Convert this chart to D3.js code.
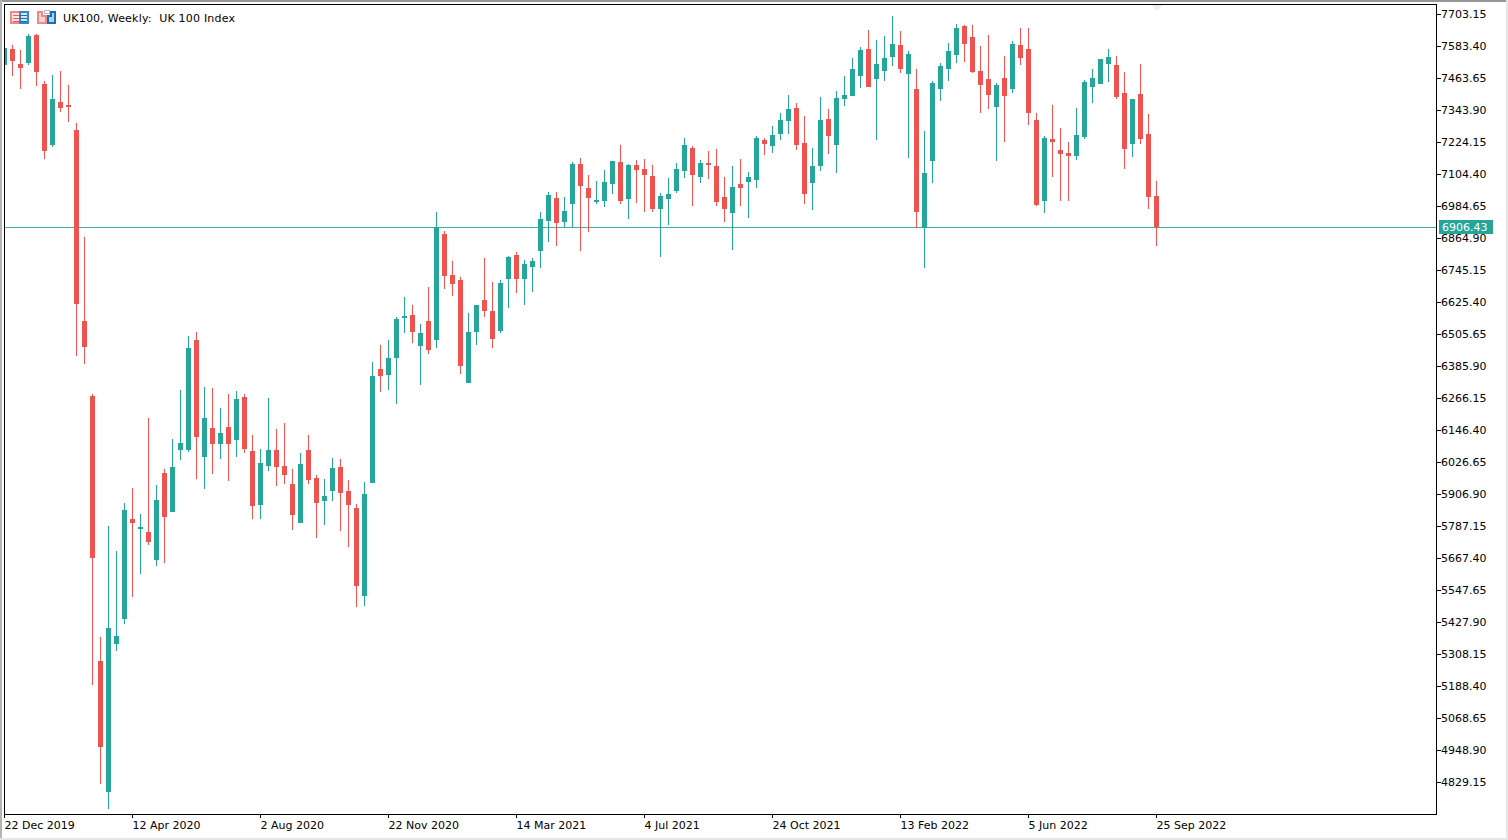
<!DOCTYPE html>
<html>
<head>
<meta charset="utf-8">
<title>UK100, Weekly</title>
<script src="https://cdn.jsdelivr.net/npm/d3@7/dist/d3.min.js"></script>
<style>
html,body{margin:0;padding:0;background:#fff;overflow:hidden}
svg{display:block}
text{font-family:"DejaVu Sans",sans-serif;font-size:11px;fill:#000;white-space:pre}
</style>
</head>
<body>
<svg id="chart" width="1508" height="840"></svg>
<script>
const chartTitle = "UK100, Weekly:  UK 100 Index";
const lastPrice = 6906.43;
const xTickLabels = ["22 Dec 2019","12 Apr 2020","2 Aug 2020","22 Nov 2020","14 Mar 2021","4 Jul 2021","24 Oct 2021","13 Feb 2022","5 Jun 2022","25 Sep 2022"];
const xTickWeeks = [0,16,32,48,64,80,96,112,128,144];
const yTickValues = [7703.15,7583.40,7463.65,7343.90,7224.15,7104.40,6984.65,6864.90,6745.15,6625.40,6505.65,6385.90,6266.15,6146.40,6026.65,5906.90,5787.15,5667.40,5547.65,5427.90,5308.15,5188.40,5068.65,4948.90,4829.15];

const opens = [
7512.3,7572.2,7516.0,7519.8,7624.6,7441.2,7212.9,7373.8,7362.6,7269.0,
6554.3,6273.6,5281.9,4791.8,5345.6,5439.1,5813.3,5775.9,5764.7,5659.9,
5985.5,5839.5,6071.5,6071.5,6483.2,6045.3,6153.9,6094.0,6157.6,6109.0,
6269.9,6067.8,5865.7,6011.6,6071.5,6011.6,5944.3,5798.3,6071.5,5966.7,
5880.7,5918.1,6007.9,5918.1,5854.5,5525.2,5948.0,6374.7,6352.2,6415.8,
6565.5,6576.7,6460.8,6554.3,6483.2,6879.8,6726.4,6707.7,6322.2,6513.1,
6632.9,6591.7,6516.8,6711.5,6801.3,6711.5,6756.4,6816.2,6928.5,7014.6,
6924.8,6992.1,7141.8,7052.0,6999.6,7003.3,7067.0,7149.3,7010.8,7138.1,
7123.1,7096.9,6973.4,7010.8,7040.8,7115.6,7201.7,7093.2,7145.5,7134.3,
7018.3,6958.5,7067.0,7074.5,7081.9,7231.6,7209.2,7254.1,7302.7,7351.4,
7220.4,7070.7,7134.3,7310.2,7212.9,7385.0,7396.3,7471.1,7572.2,7459.9,
7489.8,7542.2,7587.1,7478.6,7422.5,6902.3,7153.0,7422.5,7497.3,7549.7,
7658.2,7617.1,7489.8,7459.9,7355.1,7463.6,7422.5,7587.1,7572.2,7306.5,
7003.3,7235.4,7194.2,7183.0,7171.8,7242.9,7429.9,7441.2,7516.0,7512.3,
7407.5,7216.6,7403.8,7254.1,7022.0];

const highs = [
7575.9,7587.1,7568.4,7628.3,7628.3,7452.4,7474.9,7489.8,7437.4,7295.2,
6868.6,6281.1,5371.7,5787.1,5693.6,5873.2,5929.4,5832.0,6191.3,5940.6,
6000.4,6112.7,6296.1,6498.1,6513.1,6307.3,6303.6,6228.7,6281.1,6292.3,
6281.1,6127.7,6075.3,6266.1,6150.1,6172.6,6000.4,6060.3,6127.7,5978.0,
5963.0,6041.6,6037.8,5959.3,5869.5,5951.8,6400.8,6464.5,6483.2,6569.2,
6644.1,6614.2,6543.0,6681.5,6962.2,6891.1,6778.8,6719.0,6584.2,6614.2,
6790.0,6700.2,6707.7,6797.5,6812.5,6782.6,6790.0,6962.2,7037.0,7037.0,
7018.3,7149.3,7164.3,7100.6,7078.2,7119.4,7153.0,7212.9,7141.8,7156.8,
7160.5,7138.1,7033.3,7089.4,7145.5,7239.1,7209.2,7156.8,7190.5,7197.9,
7093.2,7134.3,7160.5,7111.9,7246.6,7239.1,7284.0,7332.7,7400.0,7370.1,
7321.4,7201.7,7392.5,7347.6,7415.0,7471.1,7538.5,7579.6,7643.3,7605.9,
7620.8,7695.7,7639.5,7564.7,7497.3,7265.3,7452.4,7519.8,7594.6,7665.7,
7662.0,7662.0,7583.4,7624.6,7444.9,7546.0,7602.1,7650.8,7650.8,7332.7,
7246.6,7362.6,7276.5,7224.1,7351.4,7456.2,7497.3,7534.7,7572.2,7546.0,
7486.1,7385.0,7516.0,7329.0,7078.2];

const lows = [
7512.3,7471.1,7422.5,7512.3,7433.7,7160.5,7205.4,7336.4,7299.0,6423.3,
6393.4,5192.1,4821.7,4728.1,5319.4,5420.4,5521.4,5607.5,5716.0,5637.4,
5648.6,5839.5,6034.1,6064.0,5963.0,5925.6,5981.7,6037.8,5955.5,6045.3,
6060.3,5813.3,5813.3,5993.0,5936.8,5944.3,5772.2,5798.3,5944.3,5742.2,
5790.8,5880.7,5768.4,5708.5,5484.0,5487.8,5948.0,6288.6,6296.1,6243.7,
6509.4,6471.9,6314.8,6430.8,6453.3,6674.0,6647.9,6355.9,6322.2,6464.5,
6569.2,6453.3,6509.4,6603.0,6659.1,6614.2,6662.8,6752.6,6849.9,6834.9,
6906.1,6906.1,6816.2,6887.3,6992.1,6980.9,7029.5,6992.1,6936.0,6995.8,
6962.2,6962.2,6793.8,6913.5,7033.3,7089.4,6984.6,7070.7,7085.7,6984.6,
6924.8,6820.0,6984.6,6939.7,7052.0,7175.5,7183.0,7231.6,7254.1,7194.2,
6992.1,6969.7,7115.6,7179.2,7108.1,7358.9,7396.3,7426.2,7429.9,7231.6,
7452.4,7508.5,7482.4,7164.3,6902.3,6752.6,7070.7,7377.6,7452.4,7519.8,
7523.5,7482.4,7332.7,7347.6,7153.0,7224.1,7407.5,7512.3,7287.8,6984.6,
6958.5,7093.2,7003.3,7003.3,7156.8,7235.4,7370.1,7441.2,7448.7,7385.0,
7123.1,7168.0,7216.6,6973.4,6834.9];

const closes = [
7575.9,7527.3,7501.0,7620.8,7486.1,7190.5,7385.0,7351.4,7355.1,6618.0,
6457.0,5667.4,4960.1,5405.4,5375.5,5847.0,5798.3,5783.4,5727.3,5884.4,
5820.8,6007.9,6097.7,6453.3,6120.2,6191.3,6094.0,6135.2,6094.0,6262.4,
6075.3,5861.9,6022.9,6071.5,6007.9,5978.0,5828.3,6019.1,5959.3,5873.2,
5899.4,6004.2,5910.6,5865.7,5562.6,5906.9,6348.5,6348.5,6415.8,6561.7,
6572.9,6513.1,6509.4,6445.8,6906.1,6722.7,6692.7,6385.9,6513.1,6614.2,
6591.7,6486.9,6696.5,6793.8,6711.5,6767.6,6778.8,6936.0,7025.8,6921.0,
6965.9,7141.8,7059.5,7014.6,7007.1,7074.5,7153.0,7003.3,7138.1,7119.4,
7100.6,6973.4,7022.0,7029.5,7123.1,7212.9,7100.6,7145.5,7138.1,6999.6,
6973.4,7055.7,7052.0,7093.2,7239.1,7216.6,7250.3,7306.5,7347.6,7212.9,
7029.5,7134.3,7306.5,7246.6,7388.8,7400.0,7497.3,7568.4,7429.9,7516.0,
7538.5,7590.9,7497.3,7553.4,6962.2,7108.1,7444.9,7508.5,7564.7,7650.8,
7590.9,7486.1,7437.4,7400.0,7437.4,7396.3,7590.9,7538.5,7332.7,6988.4,
7239.1,7224.1,7179.2,7171.8,7250.3,7448.7,7463.6,7534.7,7542.2,7392.5,
7197.9,7385.0,7235.4,7018.3,6906.43];

const UP = "#26a69a", DOWN = "#ef5350";
const W = 1508, H = 840;
const frame = {left:4, top:4, right:1436, bottom:814};
const FONT = '"DejaVu Sans",sans-serif';

const svg = d3.select("#chart");
const x = d3.scaleLinear().domain([0,144]).range([4,1156]);
const y = d3.scaleLinear().domain([4829.15,7703.15]).range([782,14]);

// window edges
svg.append("rect").attr("x",0).attr("y",0).attr("width",W).attr("height",2).attr("fill","#969696");
svg.append("rect").attr("x",0).attr("y",0).attr("width",2).attr("height",H).attr("fill","#b4b4b4");
svg.append("rect").attr("x",0).attr("y",H-2).attr("width",W).attr("height",2).attr("fill","#e6e6e6");
svg.append("rect").attr("x",W-2).attr("y",0).attr("width",2).attr("height",H).attr("fill","#e6e6e6");

svg.append("clipPath").attr("id","plot").append("rect")
  .attr("x",frame.left).attr("y",frame.top)
  .attr("width",frame.right-frame.left).attr("height",frame.bottom-frame.top);

const plot = svg.append("g").attr("clip-path","url(#plot)").attr("shape-rendering","crispEdges");

// last price line
const lastY = Math.round(y(lastPrice));
plot.append("line").attr("x1",frame.left).attr("x2",frame.right)
  .attr("y1",lastY+0.5).attr("y2",lastY+0.5).attr("stroke",UP).attr("stroke-opacity",0.9);

// candles
const candles = d3.range(opens.length).map(i => ({i,o:opens[i],h:highs[i],l:lows[i],c:closes[i]}));
const g = plot.selectAll("g.candle").data(candles).join("g").attr("class","candle");
g.append("rect")
  .attr("x",d=>x(d.i))
  .attr("width",1)
  .attr("y",d=>Math.round(y(d.h)))
  .attr("height",d=>Math.round(y(d.l))-Math.round(y(d.h)))
  .attr("fill",d=>d.c>=d.o?UP:DOWN);
g.append("rect")
  .attr("x",d=>x(d.i)-2)
  .attr("width",5)
  .attr("y",d=>Math.round(y(Math.max(d.o,d.c))))
  .attr("height",d=>Math.max(1,Math.round(y(Math.min(d.o,d.c)))-Math.round(y(Math.max(d.o,d.c)))))
  .attr("fill",d=>d.c>=d.o?UP:DOWN);

// faint chart-shift marker at the top
svg.append("path").attr("d",d3.line()([[1151,5],[1163,5],[1157,11]])+"Z").attr("fill","#eeeeee");

// frame
svg.append("rect").attr("x",frame.left+0.5).attr("y",frame.top+0.5)
  .attr("width",frame.right-frame.left).attr("height",frame.bottom-frame.top)
  .attr("fill","none").attr("stroke","#000").attr("shape-rendering","crispEdges");

// right axis
const yAxis = d3.axisRight(y).tickValues(yTickValues).tickSize(5).tickPadding(0).tickFormat(d3.format(".2f"));
const yg = svg.append("g").attr("transform",`translate(${frame.right},0)`).call(yAxis);
yg.select(".domain").remove();
yg.selectAll("line").attr("stroke","#000").attr("shape-rendering","crispEdges");
yg.selectAll("text").attr("fill","#000").attr("y",-0.5).style("font-family",FONT).style("font-size","11px");

// bottom axis
const xAxis = d3.axisBottom(x).tickValues(xTickWeeks).tickSize(4).tickPadding(3)
  .tickFormat((d,i)=>xTickLabels[i]);
const xg = svg.append("g").attr("transform",`translate(0,${frame.bottom})`).call(xAxis);
xg.select(".domain").remove();
xg.selectAll("line").attr("stroke","#000").attr("shape-rendering","crispEdges");
xg.selectAll("text").attr("fill","#000").attr("text-anchor","start")
  .style("font-family",FONT).style("font-size","11px");

// last price tag
svg.append("rect").attr("x",1439).attr("y",lastY-7).attr("width",54).attr("height",14).attr("fill",UP);
svg.append("text").attr("x",1442).attr("y",lastY+3.5).style("fill","#fff").text(d3.format(".2f")(lastPrice));

// title
svg.append("text").attr("x",63).attr("y",21.5).attr("textLength",172).attr("lengthAdjust","spacing").text(chartTitle);

// header icons
const icons = svg.append("g").attr("shape-rendering","crispEdges");
icons.append("rect").attr("x",11).attr("y",12).attr("width",9).attr("height",11).attr("fill","#fce4e1").attr("stroke","#ec8a85").attr("stroke-width",2);
icons.append("rect").attr("x",20).attr("y",12).attr("width",8).attr("height",11).attr("fill","#d6e9f8").attr("stroke","#3a86c4").attr("stroke-width",2);
[15,18,21].forEach(v=>{
  icons.append("rect").attr("x",13).attr("y",v).attr("width",6).attr("height",1).attr("fill","#e0655f");
  icons.append("rect").attr("x",20).attr("y",v).attr("width",7).attr("height",1).attr("fill","#1c6fb0");
});
icons.append("path").attr("d","M38 12H42V16H46V23H38Z").attr("fill","#fcd6d2").attr("stroke","#ec8a85").attr("stroke-width",2);
icons.append("path").attr("d","M48 16H51V12H55V23H48Z").attr("fill","#a9d5f3").attr("stroke","#1c6fb0").attr("stroke-width",2);
icons.append("rect").attr("x",44.5).attr("y",10.5).attr("width",5).attr("height",3).attr("fill","#fff").attr("stroke","#bbbbbb");
</script>
</body>
</html>
